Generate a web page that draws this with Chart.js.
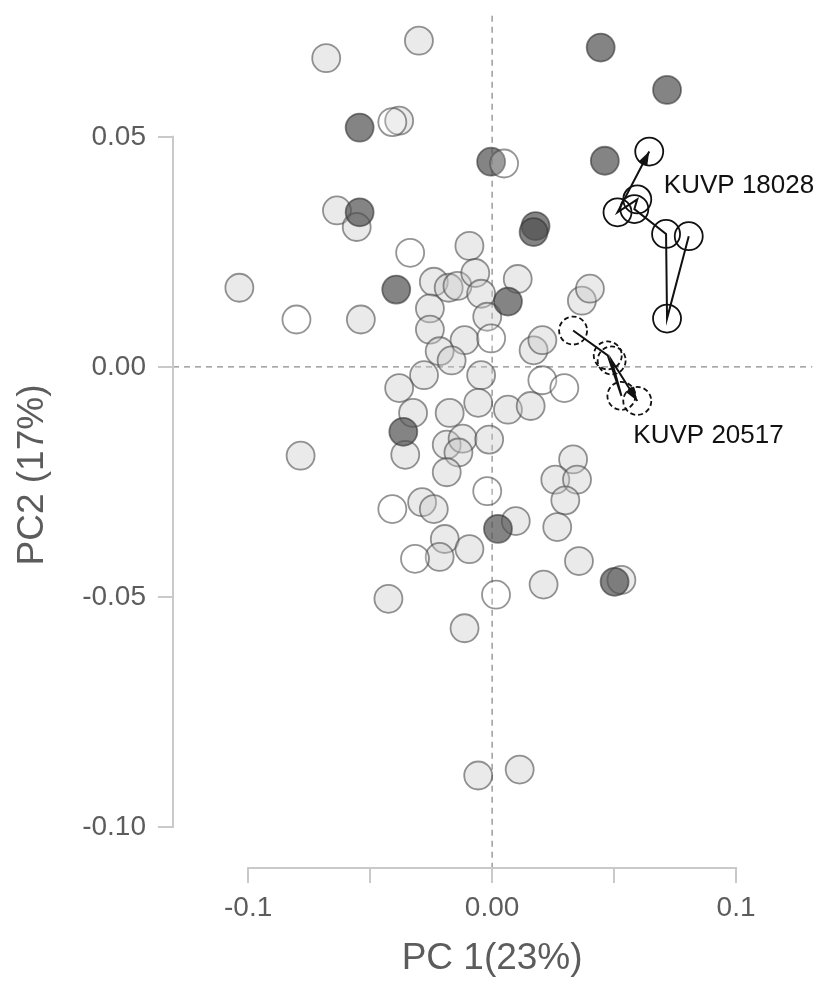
<!DOCTYPE html>
<html>
<head>
<meta charset="utf-8">
<title>PCA scores</title>
<script src="https://cdn.jsdelivr.net/npm/chart.js@4.4.1/dist/chart.umd.min.js"></script>
<style>
  html, body { margin: 0; padding: 0; background: #fff; }
  #pca { display: block; }
</style>
</head>
<body>
<canvas id="pca" width="828" height="981"></canvas>
<script>
// PC1 / PC2 scores by group
const lightPC1 = [-0.0680, -0.0300, -0.0381, -0.0636, -0.0555, -0.0093, -0.1036, -0.0538, -0.0239, -0.0178,
  -0.0142, -0.0069, -0.0045, 0.0105, -0.0255, -0.0255, -0.0113, -0.0020, -0.0215, -0.0166,
  -0.0279, -0.0045, -0.0381, -0.0324, -0.0174, -0.0057, 0.0065, 0.0158, 0.0170, 0.0206,
  0.0368, 0.0401, -0.0356, -0.0186, -0.0121, -0.0138, -0.0012, -0.0186, -0.0785, 0.0332,
  0.0259, 0.0348, 0.0300, 0.0267, 0.0097, -0.0287, -0.0239, -0.0194, -0.0093, -0.0215,
  0.0356, 0.0211, 0.0530, -0.0425, -0.0113, -0.0057, 0.0113];
const lightPC2 = [0.0671, 0.0709, 0.0535, 0.0340, 0.0304, 0.0263, 0.0172, 0.0103, 0.0185, 0.0172,
  0.0176, 0.0204, 0.0159, 0.0191, 0.0127, 0.0081, 0.0058, 0.0109, 0.0034, 0.0014,
  -0.0018, -0.0018, -0.0046, -0.0100, -0.0100, -0.0078, -0.0093, -0.0085, 0.0036, 0.0058,
  0.0144, 0.0170, -0.0191, -0.0169, -0.0156, -0.0186, -0.0158, -0.0229, -0.0193, -0.0201,
  -0.0245, -0.0245, -0.0290, -0.0348, -0.0335, -0.0294, -0.0309, -0.0374, -0.0396, -0.0413,
  -0.0422, -0.0473, -0.0463, -0.0504, -0.0568, -0.0888, -0.0875];

const darkPC1 = [0.0445, 0.0717, -0.0543, -0.0004, 0.0462, -0.0543, -0.0393, 0.0178, 0.0170, 0.0065, -0.0364, 0.0024, 0.0502];
const darkPC2 = [0.0694, 0.0602, 0.0520, 0.0446, 0.0448, 0.0336, 0.0168, 0.0306, 0.0293, 0.0142, -0.0141, -0.0352, -0.0467];

const openPC1 = [-0.0409, 0.0049, -0.0336, -0.0802, -0.0004, 0.0206, 0.0296, -0.0020, -0.0409, -0.0316, 0.0016];
const openPC2 = [0.0532, 0.0442, 0.0248, 0.0103, 0.0062, -0.0029, -0.0046, -0.0270, -0.0309, -0.0417, -0.0495];

// specimen trajectories, in growth order
const kuvp18028PC1 = [0.0806, 0.0717, 0.0713, 0.0583, 0.0595, 0.0514, 0.0644];
const kuvp18028PC2 = [0.0284, 0.0105, 0.0289, 0.0343, 0.0364, 0.0336, 0.0468];
const kuvp20517PC1 = [0.0332, 0.0474, 0.0530, 0.0490, 0.0595];
const kuvp20517PC2 = [0.0079, 0.0025, -0.0063, 0.0014, -0.0074];

const specimenNames = ['KUVP 18028', 'KUVP 20517'];

const xTicks = [-0.1, -0.05, 0, 0.05, 0.1];
const xTickLabels = ['-0.1', '', '0.00', '', '0.1'];
const yTicks = [0.05, 0, -0.05, -0.1];
const yTickLabels = ['0.05', '0.00', '-0.05', '-0.10'];

const xTitle = 'PC 1(23%)';
const yTitle = 'PC2 (17%)';

const FONT = "'Liberation Sans', Arial, sans-serif";
const AXIS_GREY = '#c9c9c9';
const TEXT_GREY = '#5c5c5c';

function toPoints(xs, ys) {
  return xs.map((x, i) => ({ x: x, y: ys[i] }));
}

// zero lines, dashed circles, arrow heads, axis lines and text
const pcaDecor = {
  id: 'pcaDecor',
  beforeDatasetsDraw(chart) {
    const { ctx, chartArea: a, scales: { x, y } } = chart;
    const x0 = x.getPixelForValue(0);
    const y0 = y.getPixelForValue(0);
    ctx.save();
    ctx.strokeStyle = '#8c8c8c';
    ctx.lineWidth = 1.3;
    ctx.setLineDash([6, 5]);
    ctx.beginPath();
    ctx.moveTo(x0, a.top);
    ctx.lineTo(x0, a.bottom);
    ctx.moveTo(a.left, y0);
    ctx.lineTo(a.right, y0);
    ctx.stroke();
    ctx.restore();
  },
  beforeDatasetDraw(chart, args) {
    if (chart.data.datasets[args.index].dashedPoints) {
      chart.ctx.save();
      chart.ctx.setLineDash([5, 3]);
    }
  },
  afterDatasetDraw(chart, args) {
    if (chart.data.datasets[args.index].dashedPoints) chart.ctx.restore();
  },
  afterDatasetsDraw(chart, args, opts) {
    const { ctx, chartArea: a, scales: { x, y } } = chart;

    // arrow heads at the last point of each trajectory
    chart.data.datasets.forEach((ds, i) => {
      if (!ds.arrow) return;
      const pts = chart.getDatasetMeta(i).data;
      const end = pts[pts.length - 1];
      const prev = pts[pts.length - 2];
      const ang = Math.atan2(end.y - prev.y, end.x - prev.x);
      const len = 14, half = 5;
      ctx.save();
      ctx.fillStyle = '#111';
      ctx.translate(end.x, end.y);
      ctx.rotate(ang);
      ctx.beginPath();
      ctx.moveTo(0, 0);
      ctx.lineTo(-len, -half);
      ctx.lineTo(-len, half);
      ctx.closePath();
      ctx.fill();
      ctx.restore();
    });

    // axis lines only span the labelled range
    ctx.save();
    ctx.strokeStyle = AXIS_GREY;
    ctx.lineWidth = 2;
    ctx.beginPath();
    ctx.moveTo(x.getPixelForValue(xTicks[0]) - 1, a.bottom);
    ctx.lineTo(x.getPixelForValue(xTicks[xTicks.length - 1]) + 1, a.bottom);
    ctx.moveTo(a.left, y.getPixelForValue(yTicks[0]) - 1);
    ctx.lineTo(a.left, y.getPixelForValue(yTicks[yTicks.length - 1]) + 1);
    ctx.stroke();
    ctx.restore();

    // specimen labels
    ctx.save();
    ctx.fillStyle = '#111';
    ctx.font = '26px ' + FONT;
    ctx.textAlign = 'left';
    ctx.textBaseline = 'middle';
    opts.labels.forEach(l => {
      ctx.fillText(l.text, x.getPixelForValue(l.x), y.getPixelForValue(l.y));
    });
    ctx.restore();

    // axis titles
    ctx.save();
    ctx.fillStyle = TEXT_GREY;
    ctx.font = '37px ' + FONT;
    ctx.textAlign = 'center';
    ctx.textBaseline = 'alphabetic';
    ctx.fillText(xTitle, x.getPixelForValue(0), opts.xTitleBaseline);
    ctx.translate(opts.yTitleBaseline, opts.yTitleCenter);
    ctx.rotate(-Math.PI / 2);
    ctx.fillText(yTitle, 0, 0);
    ctx.restore();
  }
};

const lightStyle = {
  pointRadius: 14,
  pointBorderWidth: 1.8,
  pointBackgroundColor: 'rgba(200,200,200,0.38)',
  pointBorderColor: 'rgba(70,70,70,0.58)'
};

new Chart(document.getElementById('pca'), {
  type: 'scatter',
  data: {
    datasets: [
      {
        label: specimenNames[0],
        data: toPoints(kuvp18028PC1, kuvp18028PC2),
        showLine: true,
        tension: 0,
        borderColor: '#111',
        borderWidth: 2,
        pointRadius: 14,
        pointBorderWidth: 1.8,
        pointBorderColor: '#111',
        pointBackgroundColor: 'rgba(255,255,255,0)',
        arrow: true
      },
      {
        label: specimenNames[1],
        data: toPoints(kuvp20517PC1, kuvp20517PC2),
        showLine: true,
        tension: 0,
        borderColor: '#111',
        borderWidth: 2,
        pointRadius: 14,
        pointBorderWidth: 1.8,
        pointBorderColor: '#111',
        pointBackgroundColor: 'rgba(255,255,255,0)',
        dashedPoints: true,
        arrow: true
      },
      Object.assign({ label: 'open', data: toPoints(openPC1, openPC2) }, lightStyle, {
        pointBackgroundColor: 'rgba(255,255,255,0.2)'
      }),
      Object.assign({ label: 'dark', data: toPoints(darkPC1, darkPC2) }, lightStyle, {
        pointBackgroundColor: 'rgba(80,80,80,0.7)',
        pointBorderColor: 'rgba(50,50,50,0.6)'
      }),
      Object.assign({ label: 'light', data: toPoints(lightPC1, lightPC2) }, lightStyle)
    ]
  },
  options: {
    responsive: false,
    animation: false,
    devicePixelRatio: 1,
    layout: { padding: { top: 10, right: 8, left: 0, bottom: 0 } },
    plugins: {
      legend: { display: false },
      tooltip: { enabled: false },
      pcaDecor: {
        labels: [
          { text: specimenNames[0], x: 0.0704, y: 0.0394 },
          { text: specimenNames[1], x: 0.0579, y: -0.0150 }
        ],
        xTitleBaseline: 969,
        yTitleBaseline: 43,
        yTitleCenter: 475
      }
    },
    scales: {
      x: {
        type: 'linear',
        min: -0.1308,
        max: 0.1312,
        afterBuildTicks: s => { s.ticks = xTicks.map(v => ({ value: v })); },
        afterFit: s => {
          s.height = 113;
          s.paddingLeft = 0;
          s.paddingRight = 0;
        },
        ticks: {
          autoSkip: false,
          maxRotation: 0,
          padding: 8,
          color: TEXT_GREY,
          font: { family: FONT, size: 28 },
          callback: (v, i) => xTickLabels[i]
        },
        grid: { drawOnChartArea: false, tickLength: 15, color: AXIS_GREY, lineWidth: 2 },
        border: { display: false }
      },
      y: {
        type: 'linear',
        min: -0.1089,
        max: 0.0763,
        afterBuildTicks: s => { s.ticks = yTicks.map(v => ({ value: v })); },
        afterFit: s => {
          s.width = 173;
          s.paddingTop = 0;
          s.paddingBottom = 0;
        },
        ticks: {
          autoSkip: false,
          padding: 12,
          color: TEXT_GREY,
          font: { family: FONT, size: 28 },
          callback: (v, i) => yTickLabels[i]
        },
        grid: { drawOnChartArea: false, tickLength: 15, color: AXIS_GREY, lineWidth: 2 },
        border: { display: false }
      }
    }
  },
  plugins: [pcaDecor]
});
</script>
</body>
</html>
